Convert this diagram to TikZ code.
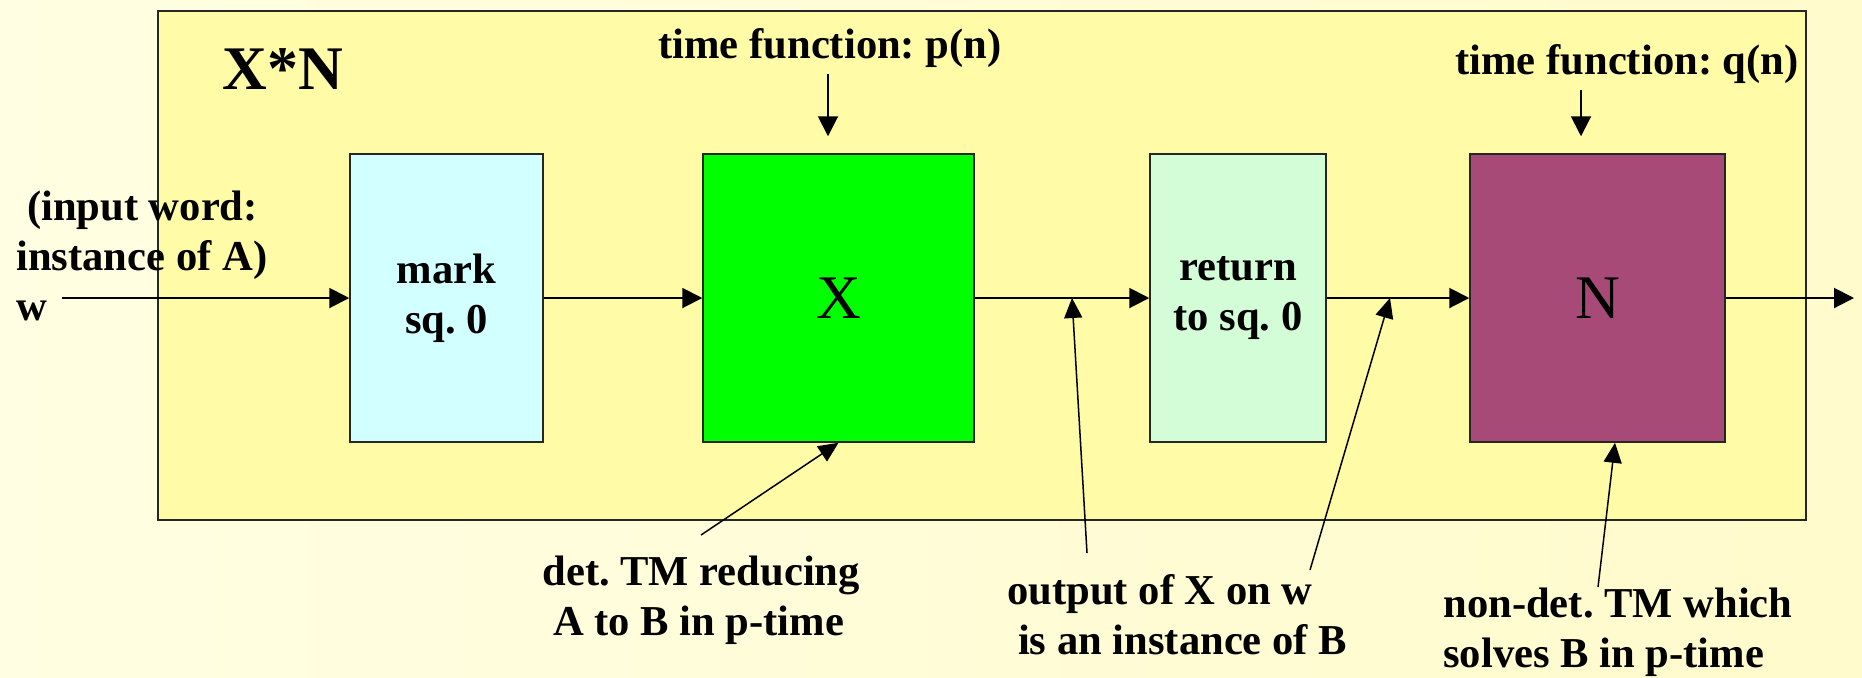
\documentclass[tikz,border=0pt]{standalone}
\usepackage{fontspec}
\setmainfont{Liberation Serif}
\usetikzlibrary{arrows.meta,calc}
\definecolor{bgL}{HTML}{FFFEE2}
\definecolor{bgR}{HTML}{FFFBCC}
\definecolor{panel}{HTML}{FFFBA6}
\definecolor{markc}{HTML}{D2FFFF}
\definecolor{xc}{HTML}{00FF00}
\definecolor{retc}{HTML}{D2FDD6}
\definecolor{nc}{HTML}{A84A78}
\frenchspacing
\begin{document}
\begin{tikzpicture}[x=0.5pt,y=-0.5pt,
  lbl/.style={font=\fontsize{21.3}{25}\selectfont\bfseries, inner sep=0pt, align=left},
  box/.style={draw=black!85, line width=0.75pt, inner sep=0pt},
  stage/.style={box, minimum height=144pt, align=center, font=\fontsize{21.3}{25}\selectfont\bfseries},
  big/.style={box, minimum height=144pt, font=\fontsize{31}{31}\selectfont},
  flow/.style={line width=1pt, -{Triangle[length=10pt,width=10pt]}},
  call/.style={line width=0.75pt, -{Triangle[length=10pt,width=9pt]}}]

\shade[left color=bgL, right color=bgR] (0,0) rectangle (1862,677);
\useasboundingbox (0,0) rectangle (1862,677);

\node[box, fill=panel, minimum width=824pt, minimum height=254.5pt] (frame) at (982,265.5) {};
\node[lbl, anchor=base, font=\fontsize{31}{31}\selectfont\bfseries] (title) at (283,89) {X*N};

\node[stage, fill=markc, minimum width=96.5pt] (mark) at (446.5,298) {mark\\sq. 0};
\node[big, fill=xc, minimum width=135.5pt] (X) at (838.5,298) {X};
\node[stage, fill=retc, minimum width=88pt] (ret) at (1238,298) {return\\to sq. 0};
\node[big, fill=nc, minimum width=127.5pt] (N) at (1597.5,298) {N};

\coordinate (in) at (62,298);
\coordinate (out) at (1854,298);
\draw[flow] (in) -- (mark.west);
\draw[flow] (mark.east) -- (X.west);
\draw[flow] (X.east) -- (ret.west);
\draw[flow] (ret.east) -- (N.west);
\draw[flow] (N.east) -- (out);

\node[lbl, anchor=base] (tp) at (830,58) {time function: p(n)};
\node[lbl, anchor=base] (tq) at (1627,74) {time function: q(n)};
\coordinate (pa) at (828,74);
\coordinate (qa) at (1581,90);
\draw[flow, shorten >=8.5pt] (pa) -- (pa |- X.north);
\draw[flow, shorten >=8.5pt] (qa) -- (qa |- N.north);

\node[lbl, anchor=north west] (inp) at (16,191) {\ (input word:\\instance of A)\\w};

\node[lbl, anchor=north west] (det) at (542,556) {det. TM reducing\\\ A to B in p-time};
\node[lbl, anchor=north west] (outp) at (1007,574) {output of X on w\\\ is an instance of B};
\node[lbl, anchor=north west] (nd) at (1443,588) {non-det. TM which\\solves B in p-time};

\coordinate (c1) at (701,535);
\coordinate (c2) at (1087,553);
\coordinate (c3) at (1310,570);
\coordinate (c4) at (1598,587);
\coordinate (j1) at (1072,298);
\coordinate (j2) at (1390,298);
\draw[call] (c1) -- (X.south);
\draw[call] (c2) -- (j1);
\draw[call] (c3) -- (j2);
\draw[call] (c4) -- ([xshift=8.75pt]N.south);
\end{tikzpicture}
\end{document}
